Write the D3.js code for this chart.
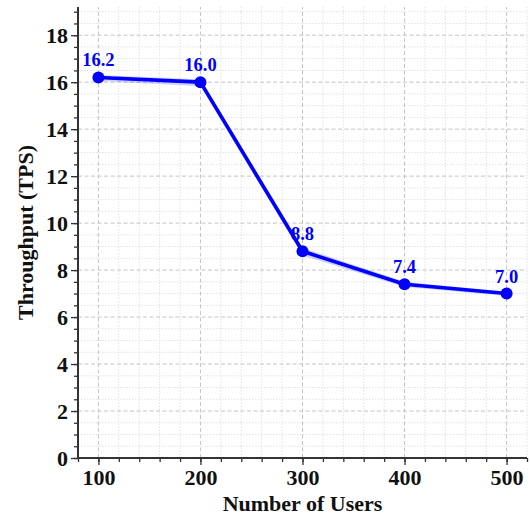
<!DOCTYPE html>
<html>
<head>
<meta charset="utf-8">
<script src="https://cdn.jsdelivr.net/npm/d3@7"></script>
<style>
  html, body { margin: 0; padding: 0; background: #fff; }
  svg { display: block; }
  text { font-family: "Liberation Serif", "Times New Roman", serif; font-weight: bold; }
</style>
</head>
<body>
<svg id="chart" width="530" height="521"></svg>
<script>
// Throughput measured at each concurrency level
const users = [100, 200, 300, 400, 500];
const throughput = [16.2, 16.0, 8.8, 7.4, 7.0];
const bandLow = [16.05, 15.83, 8.62, 7.28, 6.9];
const bandHigh = [16.3, 16.12, 8.95, 7.5, 7.08];
const xTicks = [100, 200, 300, 400, 500];
const yTicks = [0, 2, 4, 6, 8, 10, 12, 14, 16, 18];

const svg = d3.select("#chart");
const W = 530, H = 521;
const margin = { left: 78, right: 3, top: 7, bottom: 63 };

const x = d3.scaleLinear().domain([80, 520]).range([margin.left, W - margin.right]);
const y = d3.scaleLinear().domain([0, 19.2]).range([H - margin.bottom, margin.top]);

const xMinor = d3.range(80, 521, 20);
const yMinor = d3.range(0, 19.2, 0.5);

// Minor grid (dotted)
const grid = svg.append("g");
grid.selectAll(".mx").data(xMinor.filter(v => !xTicks.includes(v))).join("line")
  .attr("x1", d => x(d)).attr("x2", d => x(d))
  .attr("y1", y.range()[0]).attr("y2", y.range()[1])
  .attr("stroke", "#e2e2e2").attr("stroke-width", 1).attr("stroke-dasharray", "1.5,1.5");
grid.selectAll(".my").data(yMinor.filter(v => !yTicks.includes(v))).join("line")
  .attr("y1", d => y(d)).attr("y2", d => y(d))
  .attr("x1", x.range()[0]).attr("x2", x.range()[1])
  .attr("stroke", "#e2e2e2").attr("stroke-width", 1).attr("stroke-dasharray", "1.5,1.5");

// Major grid (dashed)
grid.selectAll(".gx").data(xTicks).join("line")
  .attr("x1", d => x(d)).attr("x2", d => x(d))
  .attr("y1", y.range()[0]).attr("y2", y.range()[1])
  .attr("stroke", "#c4c4c4").attr("stroke-width", 1).attr("stroke-dasharray", "4,2.5");
grid.selectAll(".gy").data(yTicks.filter(v => v > 0)).join("line")
  .attr("y1", d => y(d)).attr("y2", d => y(d))
  .attr("x1", x.range()[0]).attr("x2", x.range()[1])
  .attr("stroke", "#c4c4c4").attr("stroke-width", 1).attr("stroke-dasharray", "4,2.5");

// Axes
const axisColor = "#333";
const xAxisG = svg.append("g").attr("transform", `translate(0,${y(0)})`);
xAxisG.call(d3.axisBottom(x).tickValues(xMinor).tickSize(4).tickFormat(""));
xAxisG.call(g => g.append("g").call(d3.axisBottom(x).tickValues(xTicks).tickSize(7).tickPadding(4).tickFormat(d3.format("d"))));
const yAxisG = svg.append("g").attr("transform", `translate(${x(80)},0)`);
yAxisG.call(d3.axisLeft(y).tickValues(yMinor).tickSize(4).tickFormat(""));
yAxisG.call(g => g.append("g").call(d3.axisLeft(y).tickValues(yTicks).tickSize(7).tickPadding(3).tickFormat(d3.format("d"))));

svg.selectAll(".domain").attr("stroke", axisColor).attr("stroke-width", 2);
svg.selectAll(".tick line").attr("stroke", axisColor).attr("stroke-width", 1.3);
svg.selectAll(".tick text").attr("fill", "#111").style("font-size", "22px")
  .style("font-family", "'Liberation Serif', serif").style("font-weight", "bold");
xAxisG.selectAll(".domain").attr("d", `M${x.range()[0]},0H${x.range()[1]}`);
yAxisG.selectAll(".domain").attr("d", `M0,${y.range()[0]}V${y.range()[1]}`);

// Uncertainty band
const idx = d3.range(users.length);
svg.append("path")
  .datum(idx)
  .attr("fill", "#0000ff").attr("fill-opacity", 0.18)
  .attr("d", d3.area().x(i => x(users[i])).y0(i => y(bandLow[i])).y1(i => y(bandHigh[i])));

// Line and markers
svg.append("path")
  .datum(idx)
  .attr("fill", "none").attr("stroke", "#0000ff").attr("stroke-width", 3.6)
  .attr("stroke-linejoin", "round")
  .attr("d", d3.line().x(i => x(users[i])).y(i => y(throughput[i])));

svg.selectAll(".pt").data(idx).join("circle")
  .attr("cx", i => x(users[i])).attr("cy", i => y(throughput[i]))
  .attr("r", 6).attr("fill", "#0000ff");

svg.selectAll(".lbl").data(idx).join("text")
  .attr("x", i => x(users[i])).attr("y", i => y(throughput[i]) - 11)
  .attr("text-anchor", "middle").attr("fill", "#0000ff").style("font-size", "18.5px")
  .text(i => throughput[i].toFixed(1));

// Axis titles
svg.append("text")
  .attr("x", (x.range()[0] + x.range()[1]) / 2).attr("y", 511)
  .attr("text-anchor", "middle").attr("fill", "#111").style("font-size", "22px")
  .text("Number of Users");
svg.append("text")
  .attr("transform", `translate(33,${(y.range()[0] + y.range()[1]) / 2}) rotate(-90)`)
  .attr("text-anchor", "middle").attr("fill", "#111").style("font-size", "22px")
  .text("Throughput (TPS)");
</script>
</body>
</html>
